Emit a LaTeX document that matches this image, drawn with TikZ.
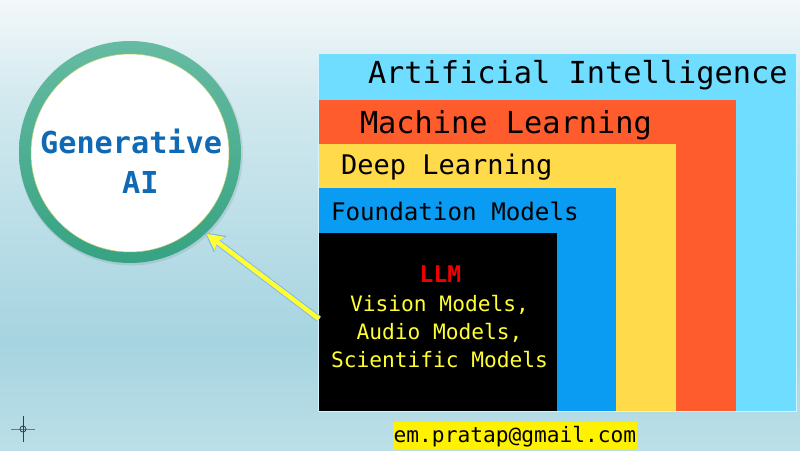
\documentclass[tikz,border=0pt]{standalone}
\usepackage{fontspec}
\newfontfamily\monof{DejaVu Sans Mono}
\usetikzlibrary{arrows.meta}
\definecolor{bgt}{HTML}{F3F8FA}
\definecolor{bgm}{HTML}{D2E9EF}
\definecolor{bga}{HTML}{A6D4E0}
\definecolor{bgc}{HTML}{BCDFE7}
\pgfdeclareverticalshading{bgshade}{100bp}{
 color(0bp)=(bgc);color(25bp)=(bgc);color(37bp)=(bga);color(64bp)=(bgm);color(75bp)=(bgt);color(100bp)=(bgt)}
\definecolor{aic}{HTML}{6EDDFF}
\definecolor{mlc}{HTML}{FF5C2E}
\definecolor{dlc}{HTML}{FFDA4A}
\definecolor{fmc}{HTML}{0A9BF2}
\definecolor{ringtop}{HTML}{66BBA2}
\definecolor{ringbot}{HTML}{36A382}
\definecolor{gentext}{HTML}{0F69B4}
\definecolor{glow}{HTML}{7FB8E6}
\definecolor{llmred}{HTML}{F00000}
\definecolor{llmyel}{HTML}{FFFF33}
\definecolor{crossc}{HTML}{2F3F45}
\tikzset{
  box/.style={anchor=north west,inner sep=0pt,outer sep=0pt,draw=none},
  lab/.style={anchor=base west,inner sep=0pt,outer sep=0pt,text=black,font=\monof\fontsize{#1}{#1}\selectfont},
  yeltext/.style={anchor=base,inner sep=0pt,text=llmyel,font=\monof\fontsize{21.2}{21.2}\selectfont},
  gentxt/.style={anchor=base west,inner sep=0pt,text=gentext,font=\monof\bfseries\fontsize{30.2}{30.2}\selectfont},
}
\begin{document}
\begin{tikzpicture}[x=1pt,y=-1pt]
\useasboundingbox (0,0) rectangle (800,450);
\shade[shading=bgshade] (0,0) rectangle (800,450);

% crosshair
\coordinate (cc) at (23,429);
\draw[crossc!70,line width=0.8pt] ([xshift=-12pt]cc) -- ([xshift=12pt]cc);
\draw[crossc,line width=0.8pt] ([yshift=-13pt]cc) -- ([yshift=13pt]cc);
\draw[crossc,line width=0.8pt] (cc) circle (3);

% nested boxes
\node[box,fill=white!70!aic,minimum width=479pt,minimum height=358pt] (frame) at (318,54) {};
\node[box,fill=aic,minimum width=477pt,minimum height=357pt] (ai) at (318.5,54) {};
\node[box,fill=mlc,minimum width=416.5pt,minimum height=310.5pt] (ml) at (319,100) {};
\node[box,fill=dlc,minimum width=356.5pt,minimum height=266.5pt] (dl) at (319,144) {};
\node[box,fill=fmc,minimum width=297pt,minimum height=222.5pt] (fm) at (319,188) {};
\node[box,fill=black,minimum width=238pt,minimum height=178pt] (llm) at (319,233) {};

\node[lab=30.3] (tai) at (368,83.5) {Artificial Intelligence};
\node[lab=30.3] (tml) at (360,133) {Machine Learning};
\node[lab=27] (tdl) at (341,174) {Deep Learning};
\node[lab=24.2] (tfm) at (331,220.5) {Foundation Models};

\node[anchor=base,inner sep=0pt,text=llmred,font=\monof\bfseries\fontsize{23}{23}\selectfont] (tllm) at (440.5,282) {LLM};
\node[yeltext] (tv) at (439.5,311) {Vision Models,};
\node[yeltext] (ta) at (439.5,339) {Audio Models,};
\node[yeltext] (ts) at (439.5,367) {Scientific Models};

% ring
\fill[black,opacity=.08] (131,153.5) circle (112);
\node[circle,minimum size=222pt,inner sep=0pt,outer sep=0pt,top color=ringtop,bottom color=ringbot] (ring) at (130,152) {};
\node[circle,minimum size=198pt,inner sep=0pt,outer sep=0pt,fill=white,draw=dlc!60!ringtop,line width=.5pt] (disc) at (130,153) {};
\node[gentxt] (g1) at (40,153) {Generative};
\node[gentxt] (g2) at (122,193) {AI};

% arrow
\draw[glow,line width=6.5pt,-{Stealth[length=19pt,width=20pt,inset=3pt]},shorten >=-1pt] ([yshift=3pt]llm.west) -- (ring.-47);
\draw[llmyel,line width=4.6pt,-{Stealth[length=16pt,width=16pt,inset=2.5pt]},shorten >=1pt] ([yshift=3pt]llm.west) -- (ring.-47);

% email
\node[anchor=north west,inner sep=0pt,outer sep=0pt,fill=yellow,minimum width=244pt,minimum height=27pt] (mailbg) at (393,422) {};
\node[anchor=base west,inner sep=0pt,text=black,font=\monof\fontsize{21.2}{21.2}\selectfont] (mail) at (393.5,442) {em.pratap@gmail.com};
\end{tikzpicture}
\end{document}
